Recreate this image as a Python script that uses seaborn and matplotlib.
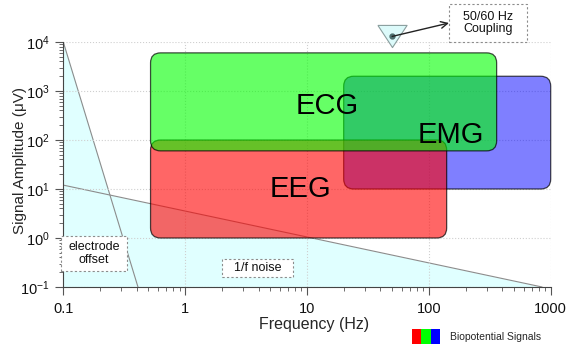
import matplotlib
matplotlib.use("Agg")
import matplotlib.pyplot as plt
import seaborn as sns
from matplotlib.patches import FancyBboxPatch, Rectangle, Patch
from matplotlib.legend_handler import HandlerTuple
from matplotlib.ticker import LogLocator, NullFormatter, FixedLocator, FixedFormatter

# pita sinyal biopotensial (Hz, uV) - urutan gambar: EMG, EEG, ECG
signal_names = ["EMG", "EEG", "ECG"]
freq_lo = [20, 0.52, 0.52]
freq_hi = [1000, 140, 360]
amp_lo = [10, 1, 60]
amp_hi = [2000, 100, 6000]
signal_colors = ["#0000ff", "#ff0000", "#00ff00"]
signal_alpha = [0.5, 0.6, 0.6]

# posisi label tiap pita (baseline)
label_freq = [152, 8.8, 14.6]
label_amp = [87, 6.9, 339]

# batas noise
offset_freq = [0.1, 0.41]
offset_amp = [1e4, 0.1]
flicker_freq = [0.1, 850]
flicker_amp = [12, 0.1]

# gangguan jala-jala
coupling_freq = [50]
coupling_amp = [1.3e4]

x_ticks = [0.1, 1, 10, 100, 1000]
x_labels = ["0.1", "1", "10", "100", "1000"]
y_ticks = [0.1, 1, 10, 100, 1000, 10000]
y_labels = [r"$10^{-1}$", r"$10^{0}$", r"$10^{1}$", r"$10^{2}$", r"$10^{3}$", r"$10^{4}$"]

W_PX, H_PX = 568, 350

sns.set_theme(style="ticks")
plt.rcParams["font.family"] = ["Liberation Sans", "DejaVu Sans"]
plt.rcParams["mathtext.fontset"] = "custom"
plt.rcParams["mathtext.rm"] = "Liberation Sans"
plt.rcParams["mathtext.it"] = "Liberation Sans:italic"
plt.rcParams["mathtext.bf"] = "Liberation Sans:bold"

fig = plt.figure(figsize=(W_PX / 100, H_PX / 100), dpi=100)
ax = fig.add_axes([63.3 / W_PX, 1 - 287 / H_PX, 487.4 / W_PX, 245 / H_PX])
ax.set_xscale("log")
ax.set_yscale("log")
ax.set_xlim(0.1, 1000)
ax.set_ylim(0.1, 10000)

# daerah noise
cyan = "#e0ffff"
ax.fill_between(offset_freq, offset_amp, 0.1, color=cyan, lw=0, zorder=0.2)
ax.fill_between(flicker_freq, flicker_amp, 0.1, color=cyan, lw=0, zorder=0.2)
sns.lineplot(x=offset_freq, y=offset_amp, color="#8c8c8c", lw=0.8, ax=ax, zorder=0.3)
sns.lineplot(x=flicker_freq, y=flicker_amp, color="#8c8c8c", lw=0.8, ax=ax, zorder=0.3)

ax.set_axisbelow(True)
ax.grid(True, which="major", color="#cfcfcf", ls=":", lw=0.8)

# kotak sinyal dengan sudut membulat
W, H = ax.bbox.width, ax.bbox.height
to_axes = ax.transData + ax.transAxes.inverted()
radius = 10
for i, name in enumerate(signal_names):
    x0, y0 = to_axes.transform((freq_lo[i], amp_lo[i]))
    x1, y1 = to_axes.transform((freq_hi[i], amp_hi[i]))
    warna = matplotlib.colors.to_rgba(signal_colors[i], signal_alpha[i])
    kotak = FancyBboxPatch((x0, y0), x1 - x0, y1 - y0,
                           boxstyle=f"round,pad=0,rounding_size={radius / W}",
                           mutation_aspect=W / H, transform=ax.transAxes,
                           fc=warna, ec=(0, 0, 0, 0.7), lw=0.9,
                           zorder=2 + i, clip_on=False)
    ax.add_patch(kotak)
for i, name in enumerate(signal_names):
    ax.text(label_freq[i], label_amp[i], name, fontsize=21, ha="center",
            va="baseline", color="black", zorder=10)

# penanda 50/60 Hz
segitiga = [(-1, 0.76), (1, 0.76), (0, -0.76), (-1, 0.76)]
ax.plot(coupling_freq, coupling_amp, ls="none", marker=segitiga, ms=21,
        mfc="#dcfafa", mec="#8a9e9e", mew=0.8, clip_on=False, zorder=11)
ax.plot(coupling_freq, coupling_amp, ls="none", marker="o", ms=3.5,
        color="#4d6e6e", clip_on=False, zorder=12)
ax.annotate("", xy=(449, H_PX - 23), xycoords="figure pixels",
            xytext=(coupling_freq[0], coupling_amp[0]), textcoords="data",
            arrowprops=dict(arrowstyle="->", color="#222222", lw=1,
                            shrinkA=0, shrinkB=0),
            annotation_clip=False, zorder=12)

# sumbu
ax.xaxis.set_major_locator(FixedLocator(x_ticks))
ax.xaxis.set_major_formatter(FixedFormatter(x_labels))
ax.yaxis.set_major_locator(FixedLocator(y_ticks))
ax.yaxis.set_major_formatter(FixedFormatter(y_labels))
for axis in (ax.xaxis, ax.yaxis):
    axis.set_minor_locator(LogLocator(base=10, subs=range(2, 10), numticks=20))
    axis.set_minor_formatter(NullFormatter())
ax.tick_params(which="major", length=6, width=0.8, color="#555555",
               labelsize=10.5, labelcolor="#111111")
ax.tick_params(axis="x", which="major", pad=5)
ax.tick_params(axis="y", which="major", pad=4)
ax.tick_params(which="minor", length=3, width=0.6, color="#555555")
for s in ("top", "right"):
    ax.spines[s].set_visible(False)
for s in ("left", "bottom"):
    ax.spines[s].set_color("#444444")
    ax.spines[s].set_linewidth(0.8)

ax.set_xlabel("Frequency (Hz)", fontsize=11.5)
ax.set_ylabel("Signal Amplitude (\u03bcV)", fontsize=11)
ax.xaxis.set_label_coords(0.514, -0.124)
ax.yaxis.set_label_coords(-0.075, 0.518)


# kotak keterangan (koordinat piksel gambar, asal kiri-atas)
def keterangan(x0, y0, x1, y1, teks):
    fig.patches.append(Rectangle((x0 / W_PX, 1 - y1 / H_PX),
                                 (x1 - x0) / W_PX, (y1 - y0) / H_PX,
                                 transform=fig.transFigure, fc="white",
                                 ec="#8c8c8c", ls=(0, (2, 2)), lw=0.8, zorder=20))
    fig.text((x0 + x1) / 2 / W_PX, 1 - (y0 + y1) / 2 / H_PX, teks,
             ha="center", va="center", fontsize=9, linespacing=1.05,
             color="#111111", zorder=21)


keterangan(61, 236, 127, 271, "electrode\noffset")
keterangan(222, 259, 293, 277, "1/f noise")
keterangan(449, 4, 527, 42, "50/60 Hz\nCoupling")

# legenda
handle = (Patch(fc="#ff0000", ec="none"), Patch(fc="#00ff00", ec="none"),
          Patch(fc="#0000ff", ec="none"))
fig.legend([handle], ["Biopotential Signals"],
           handler_map={tuple: HandlerTuple(ndivide=None, pad=0)},
           loc="center left", bbox_to_anchor=(412 / W_PX, 1 - 336.5 / H_PX),
           bbox_transform=fig.transFigure, frameon=False, fontsize=7.5,
           handlelength=2.7, handleheight=1.8, handletextpad=0.9,
           borderpad=0, borderaxespad=0)

fig.savefig("out.png", dpi=100)
plt.close(fig)
